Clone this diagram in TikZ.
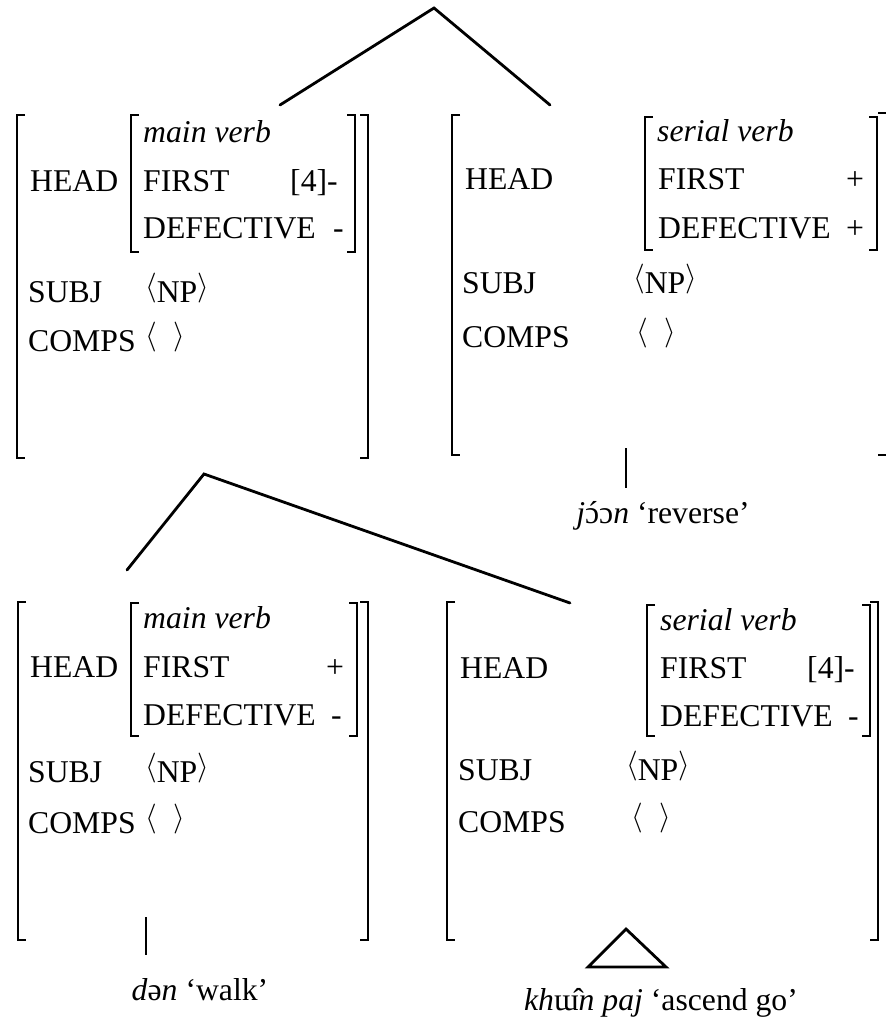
\documentclass[tikz,border=0pt]{standalone}
\usepackage{fontspec}
\usepackage{graphicx}
\setmainfont{Liberation Serif}
\newcommand\avlang{\raisebox{6.5pt}{\scalebox{1.2}{\fontsize{24.88}{25}\selectfont$\langle$}}}
\newcommand\avrang{\raisebox{6.5pt}{\scalebox{1.2}{\fontsize{24.88}{25}\selectfont$\rangle$}}}
\newcommand\oacute{\hbox{\ooalign{ɔ\cr\hidewidth\kern2pt´\hidewidth\cr}}}
\tikzset{
  txt/.style={anchor=base west, inner sep=0pt, font=\fontsize{31.7}{38}\selectfont},
  ctxt/.style={anchor=base, inner sep=0pt, font=\fontsize{31.7}{38}\selectfont},
  brk/.style={line width=1.8pt, line cap=butt},
  edge/.style={line width=2.8pt, line cap=round},
  stem/.style={line width=2.8pt, line cap=butt},
}
\newcommand\lbrk[3]{\draw[brk] (#1+8,#2) -- (#1,#2) -- (#1,#3) -- (#1+8,#3);}
\newcommand\rbrk[3]{\draw[brk] (#1-8,#2) -- (#1,#2) -- (#1,#3) -- (#1-8,#3);}
\begin{document}
\begin{tikzpicture}[x=1pt,y=-1pt]
\useasboundingbox (0,0) rectangle (885,1024);
% ---------- top tree
\coordinate (r0) at (434,8);
\coordinate (r0l) at (280,105);
\coordinate (r0r) at (550,105);
\draw[edge] (r0l) -- (r0) -- (r0r);
% ---------- AVM A (top left)
\lbrk{17}{115}{458} \rbrk{368}{115}{458}
\lbrk{131}{115}{252} \rbrk{355}{115}{252}
\node[txt] (a-type) at (143,143) {\textit{main verb}};
\node[txt] (a-head) at (30,192) {HEAD};
\node[txt] (a-first) at (143,192) {FIRST};
\node[txt] (a-fv) at (290,192) {[4]-};
\node[txt] (a-def) at (143,238) {DEFECTIVE};
\node[txt] (a-dv) at (333,238) {-};
\node[txt] (a-subj) at (28,302) {SUBJ};
\node[txt] (a-sv) at (145,302) {\avlang NP\avrang};
\node[txt] (a-comps) at (28,351) {COMPS};
\node[txt] (a-cv) at (145,351) {\avlang\hspace{17pt}\avrang};
% ---------- AVM B (top right)
\lbrk{452}{115}{455}
\draw[brk] (878,113) -- (886,113);
\draw[brk] (878,455) -- (886,455);
\lbrk{645}{117}{250} \rbrk{877}{117}{250}
\node[txt] (b-head) at (465,190) {HEAD};
\node[txt] (b-type) at (657,142) {\textit{serial verb}};
\node[txt] (b-first) at (658,190) {FIRST};
\node[ctxt] (b-fv) at (855,190) {+};
\node[txt] (b-def) at (658,238) {DEFECTIVE};
\node[ctxt] (b-dv) at (855,238) {+};
\node[txt] (b-subj) at (462,293) {SUBJ};
\node[txt] (b-sv) at (633,293) {\avlang NP\avrang};
\node[txt] (b-comps) at (462,347) {COMPS};
\node[txt] (b-cv) at (636,347) {\avlang\hspace{17pt}\avrang};
\coordinate (b-top) at (626,448);
\coordinate (b-bot) at (626,488);
\draw[stem] (b-top) -- (b-bot);
\node[ctxt] (b-word) at (663,523) {\textit{j}\oacute ɔ\textit{n} ‘reverse’};
% ---------- bottom tree
\coordinate (r1) at (204,474);
\coordinate (r1l) at (127,570);
\coordinate (r1r) at (570,603);
\draw[edge] (r1l) -- (r1) -- (r1r);
% ---------- AVM C (bottom left)
\lbrk{18}{602}{940} \rbrk{368}{602}{940}
\lbrk{131}{603}{736} \rbrk{357}{603}{736}
\node[txt] (c-type) at (143,628) {\textit{main verb}};
\node[txt] (c-head) at (30,677) {HEAD};
\node[txt] (c-first) at (143,677) {FIRST};
\node[ctxt] (c-fv) at (335,677) {+};
\node[txt] (c-def) at (143,725) {DEFECTIVE};
\node[txt] (c-dv) at (331,725) {-};
\node[txt] (c-subj) at (28,782) {SUBJ};
\node[txt] (c-sv) at (145,782) {\avlang NP\avrang};
\node[txt] (c-comps) at (28,833) {COMPS};
\node[txt] (c-cv) at (145,833) {\avlang\hspace{17pt}\avrang};
\coordinate (c-top) at (146,917);
\coordinate (c-bot) at (146,955);
\draw[stem] (c-top) -- (c-bot);
\node[ctxt] (c-word) at (200,1000) {\textit{d}ə\textit{n} ‘walk’};
% ---------- AVM D (bottom right)
\lbrk{447}{602}{940} \rbrk{878}{602}{940}
\lbrk{647}{605}{736} \rbrk{870}{605}{736}
\node[txt] (d-head) at (460,678) {HEAD};
\node[txt] (d-type) at (660,630) {\textit{serial verb}};
\node[txt] (d-first) at (660,678) {FIRST};
\node[txt] (d-fv) at (807,678) {[4]-};
\node[txt] (d-def) at (660,726) {DEFECTIVE};
\node[txt] (d-dv) at (848,726) {-};
\node[txt] (d-subj) at (458,780) {SUBJ};
\node[txt] (d-sv) at (626,780) {\avlang NP\avrang};
\node[txt] (d-comps) at (458,832) {COMPS};
\node[txt] (d-cv) at (631,832) {\avlang\hspace{17pt}\avrang};
\coordinate (d-apex) at (626,929);
\coordinate (d-bl) at (588,967);
\coordinate (d-br) at (666,967);
\draw[stem, line join=miter] (d-apex) -- (d-bl) -- (d-br) -- cycle;
\node[ctxt] (d-word) at (661,1010) {\textit{kh}ɯ̂\textit{n} \textit{paj} ‘ascend go’};
\end{tikzpicture}
\end{document}
